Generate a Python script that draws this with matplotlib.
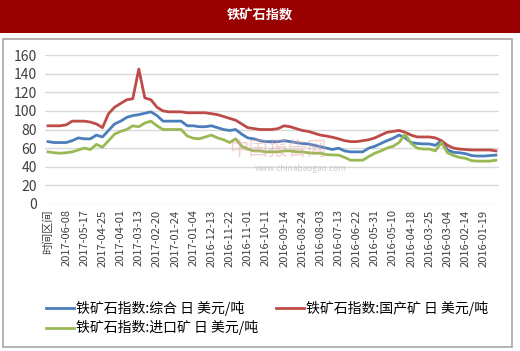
import numpy as np
import matplotlib.pyplot as plt
from matplotlib.patches import Rectangle

plt.rcParams['font.family'] = ['Noto Sans CJK SC', 'DejaVu Sans']

# tick labels, every third sample (reverse date order as in the source)
tick_labels = ['时间区间', '2017-06-08', '2017-05-17', '2017-04-25', '2017-04-01',
               '2017-03-13', '2017-02-20', '2017-01-24', '2017-01-04', '2016-12-13',
               '2016-11-22', '2016-11-01', '2016-10-11', '2016-09-14', '2016-08-24',
               '2016-08-03', '2016-07-13', '2016-06-22', '2016-05-31', '2016-05-10',
               '2016-04-18', '2016-03-25', '2016-03-04', '2016-02-14', '2016-01-19']

combined = [67, 66, 66, 66, 68, 71, 70, 70, 74, 72,
            79, 86, 89, 93, 95, 96, 97.5, 99, 95, 89,
            89, 89, 89, 84, 84, 83, 83, 84, 82, 80,
            79, 80, 75, 71, 70, 68, 67, 67, 67, 68,
            67, 66, 65, 64.5, 63, 61.6, 60, 58.5, 60, 57,
            56, 56, 56, 60, 62, 65, 68, 70.6, 74, 71,
            66, 65, 64.5, 64.5, 63, 68, 58, 55.5, 55, 54,
            52, 51.5, 51.5, 52, 52.5]

domestic = [84, 84, 84, 85, 89, 89, 89, 88, 86, 82,
            97, 104, 108, 112, 113, 145, 114, 112, 104, 100,
            99, 99, 99, 98, 98, 98, 98, 97, 96, 94,
            92, 90, 86, 82, 81, 80, 80, 80, 81, 84,
            83, 81, 79, 78, 76, 74, 73, 71.7, 70, 68,
            67, 67, 68, 69, 71, 74, 77, 78, 79, 77,
            74, 72, 72, 72, 71, 68, 63, 60, 59, 58.5,
            58, 58, 58, 58, 57]

imported = [56, 55, 54.5, 55, 56, 58, 60, 58.5, 64, 61,
            68, 75, 78, 80, 84, 83, 87, 89, 84, 80,
            80, 80, 80, 73, 70.6, 70, 72, 74, 71, 69,
            66, 70, 62, 59, 57, 57, 56, 56, 56, 57,
            57, 56, 56, 55, 54.5, 54.5, 53, 52.7, 52.5, 50,
            47, 47, 47, 51, 54.5, 57, 60, 62, 66, 75,
            65, 60, 59, 59, 57, 66, 55, 52, 50, 49,
            46.5, 46, 46, 46, 47]

series_names = ['铁矿石指数:综合 日 美元/吨', '铁矿石指数:国产矿 日 美元/吨',
                '铁矿石指数:进口矿 日 美元/吨']
series_colors = ['#4a7ebb', '#be4b48', '#98b954']

x = np.arange(len(combined))

fig = plt.figure(figsize=(5.2, 3.51), dpi=100)

# title bar and chart frame
fig.add_artist(Rectangle((0, 0.905), 1, 0.095, transform=fig.transFigure,
                         facecolor='#990000', edgecolor='none', zorder=-2))
fig.add_artist(Rectangle((0.006, 0.012), 0.979, 0.877, transform=fig.transFigure,
                         facecolor='white', edgecolor='#a6a6a6', linewidth=1.2, zorder=-2))
fig.text(0.5, 0.955, '铁矿石指数', color='white', fontsize=9.5, fontweight='bold',
         ha='center', va='center')

ax = fig.add_axes([0.0865, 0.419, 0.873, 0.424])
ax.patch.set_alpha(0)
lines = []
for values, name, color in zip([combined, domestic, imported], series_names, series_colors):
    line, = ax.plot(x, values, color=color, linewidth=2, label=name)
    lines.append(line)

ax.set_ylim(0, 160)
ax.set_yticks(np.arange(0, 161, 20))
ax.set_xlim(-0.5, len(combined) - 0.5)
ax.set_xticks(np.arange(0, len(tick_labels) * 3, 3))
ax.set_xticklabels(tick_labels, rotation=90, fontsize=8, color='#404040')
ax.tick_params(axis='y', labelsize=10, colors='#404040', length=0, pad=6)
ax.tick_params(axis='x', length=0, pad=4)
ax.grid(axis='y', color='#d9d9d9', linewidth=1)
ax.set_axisbelow(True)
for side in ['top', 'right', 'left', 'bottom']:
    ax.spines[side].set_visible(False)

# faint watermark
fig.text(0.44, 0.575, '中国报告网', color='#e8a0a0', fontsize=14, alpha=0.5,
         ha='left', va='center')
fig.text(0.49, 0.52, 'www.chinabaogao.com', color='#b0b0b0', fontsize=6, alpha=0.6,
         ha='left', va='center')

# column-wise fill: blue, green in column 1, red in column 2
order = [0, 2, 1]
fig.legend([lines[i] for i in order], [series_names[i] for i in order],
           loc='upper left', bbox_to_anchor=(0.078, 0.158), ncol=2, frameon=False,
           fontsize=10, handlelength=2.0, handletextpad=0.15, columnspacing=1.3,
           labelspacing=0.3, borderaxespad=0, prop={'size': 10})

fig.savefig('out.png', dpi=100)
